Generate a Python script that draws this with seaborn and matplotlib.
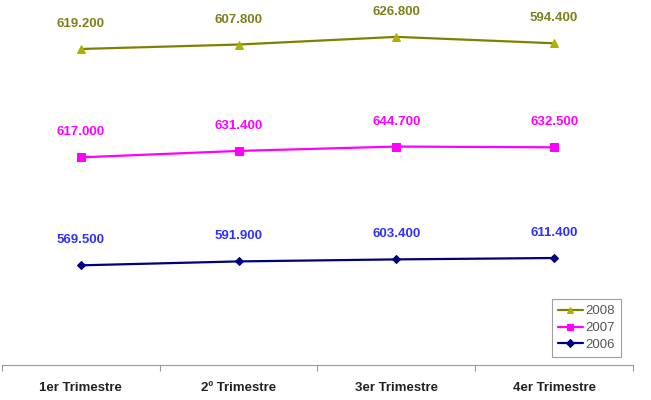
import numpy as np
import pandas as pd
import matplotlib
matplotlib.use("Agg")
import matplotlib.pyplot as plt
import seaborn as sns

# quarterly values (in thousands, Spanish notation in labels)
quarters = ["1er Trimestre", "2º Trimestre", "3er Trimestre", "4er Trimestre"]
v2006 = [569.5, 591.9, 603.4, 611.4]
v2007 = [617.0, 631.4, 644.7, 632.5]
v2008 = [619.2, 607.8, 626.8, 594.4]

# stacked line chart: each series sits on top of the previous ones
c2006 = np.array(v2006)
c2007 = c2006 + np.array(v2007)
c2008 = c2007 + np.array(v2008)

series = [
    ("2008", v2008, c2008, "#808000", "#b0b000", "^", 6, "#7f7f1f"),
    ("2007", v2007, c2007, "#ff00ff", "#ff00ff", "s", 6, "#ff00ff"),
    ("2006", v2006, c2006, "#000080", "#000080", "D", 4.5, "#3030ff"),
]

sns.set_theme(style="white")
plt.rcParams['font.family'] = ['Liberation Sans', 'DejaVu Sans']

fig = plt.figure(figsize=(6.51, 4.0), dpi=100)
ax = fig.add_axes([2 / 651, 35 / 400, 631 / 651, 360 / 400])

x = np.arange(len(quarters))
for name, vals, cum, lc, mc, mk, ms, tc in series:
    df = pd.DataFrame({"x": x, "y": cum})
    sns.lineplot(data=df, x="x", y="y", ax=ax, color=lc, marker=mk,
                 markersize=ms, markerfacecolor=mc, markeredgecolor=mc,
                 linewidth=1.6, label=name)
    for xi, yi, v in zip(x, cum, vals):
        ax.annotate(f"{v:.3f}", (xi, yi), xytext=(0, 18),
                    textcoords="offset points", ha="center", va="center",
                    fontsize=9.5, fontweight="bold", color=tc)

ax.set_xlim(-0.5, len(quarters) - 0.5)
ax.set_ylim(0, 2057)
ax.set_xlabel("")
ax.set_ylabel("")
ax.set_yticks([])

ax.set_xticks(np.arange(-0.5, len(quarters), 1.0))
ax.set_xticklabels([])
ax.set_xticks(x, minor=True)
ax.set_xticklabels(quarters, minor=True, fontsize=9.5, fontweight="bold", color="#222222")
ax.tick_params(axis="x", which="major", direction="out", length=4, width=0.8, color="#999999", bottom=True)
ax.tick_params(axis="x", which="minor", length=0, pad=12)

for s in ["top", "left", "right"]:
    ax.spines[s].set_visible(False)
ax.spines["bottom"].set_color("#999999")
ax.spines["bottom"].set_linewidth(0.8)

leg = ax.legend(loc="lower right", bbox_to_anchor=(619 / 631, 8 / 360),
                fontsize=9.5, frameon=True, fancybox=False, handlelength=1.9,
                handletextpad=0.2, borderpad=0.45, labelspacing=0.35,
                borderaxespad=0, markerscale=0.8)
leg.get_frame().set_edgecolor("#888888")
leg.get_frame().set_linewidth(0.8)
for t in leg.get_texts():
    t.set_color("#555555")

fig.savefig("out.png", dpi=100)
